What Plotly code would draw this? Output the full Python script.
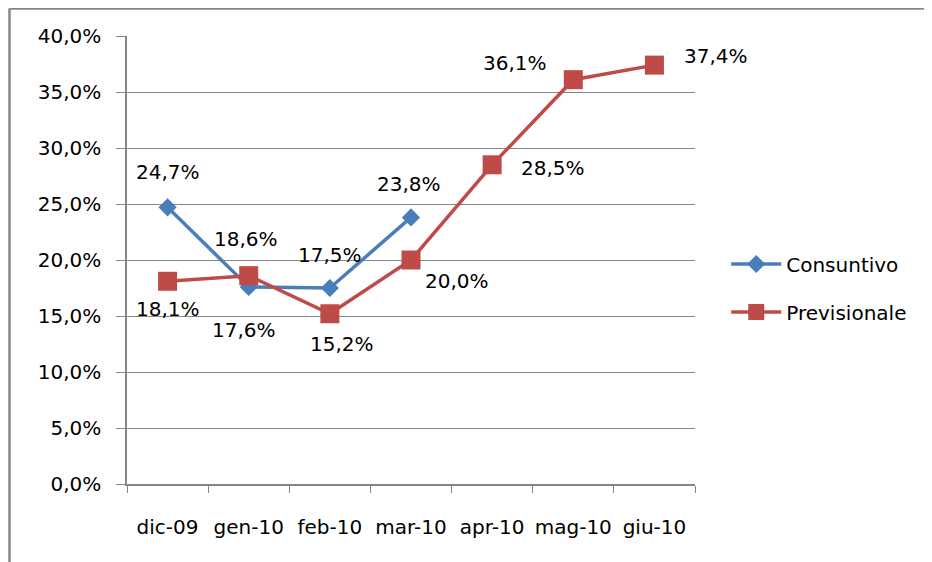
import plotly.graph_objects as go

categories = ["dic-09", "gen-10", "feb-10", "mar-10", "apr-10", "mag-10", "giu-10"]
consuntivo = [24.7, 17.6, 17.5, 23.8]
previsionale = [18.1, 18.6, 15.2, 20.0, 28.5, 36.1, 37.4]
y_ticks = [0, 5, 10, 15, 20, 25, 30, 35, 40]

# label offsets (pixels) for each data label
cons_shift = [(0, 35), (-5, -43), (0, 33), (-2, 33)]
prev_shift = [(0, -28), (-3, 37), (12, -30), (46, -21), (61, -3), (-58, 17), (62, 9)]

FONT = "DejaVu Sans"
FS = 20
BLUE = "#4A7EBB"
RED = "#BE4B48"
GRID = "#868686"


def fmt(v):
    return f"{v:.1f}".replace(".", ",") + "%"


fig = go.Figure()
fig.add_trace(go.Scatter(
    x=categories[:len(consuntivo)], y=consuntivo, name="Consuntivo",
    mode="lines+markers", legendgroup="a",
    line=dict(color=BLUE, width=3.5),
    marker=dict(symbol="diamond", size=14, color=BLUE),
))
fig.add_trace(go.Scatter(
    x=categories, y=previsionale, name="Previsionale",
    mode="lines+markers", legendgroup="b",
    line=dict(color=RED, width=3.5),
    marker=dict(symbol="square", size=19, color=RED),
))

annotations = []
for i, v in enumerate(consuntivo):
    dx, dy = cons_shift[i]
    annotations.append(dict(x=categories[i], y=v, text=fmt(v), showarrow=False,
                            xshift=dx, yshift=dy, font=dict(family=FONT, size=FS, color="black")))
for i, v in enumerate(previsionale):
    dx, dy = prev_shift[i]
    annotations.append(dict(x=categories[i], y=v, text=fmt(v), showarrow=False,
                            xshift=dx, yshift=dy, font=dict(family=FONT, size=FS, color="black")))

W, H = 924, 554
L, T = 119, 28
pw, ph = 568, 448
R, B = W - L - pw, H - T - ph
bx = (1.5 - L) / pw
by = 1 + (T - 0.5) / ph

fig.update_layout(
    width=W, height=H,
    margin=dict(l=L, r=R, t=T, b=B, pad=0, autoexpand=False),
    paper_bgcolor="white", plot_bgcolor="white",
    font=dict(family=FONT, size=FS, color="black"),
    showlegend=True,
    legend=dict(x=1.055, y=0.4375, xanchor="left", yanchor="middle",
                font=dict(family=FONT, size=FS, color="black"),
                traceorder="grouped", tracegroupgap=19, itemwidth=50,
                bgcolor="rgba(0,0,0,0)"),
    annotations=annotations,
    shapes=[
        dict(type="line", xref="paper", yref="paper", x0=bx, x1=1 + (W - L) / pw, y0=by, y1=by,
             line=dict(color=GRID, width=2.5)),
        dict(type="line", xref="paper", yref="paper", x0=bx, x1=bx, y0=by, y1=-B / ph - 0.01,
             line=dict(color=GRID, width=2.5)),
    ],
)
fig.update_xaxes(
    type="category", categoryarray=categories, range=[-0.5, len(categories) - 0.5],
    showgrid=False, showline=True, linecolor=GRID, linewidth=1.5,
    ticks="outside", tickson="boundaries", ticklen=7, tickcolor=GRID,
    tickangle=0, automargin=False,
    ticklabelstandoff=24, tickfont=dict(family=FONT, size=FS, color="black"),
)
fig.update_yaxes(
    range=[0, 40], tickmode="array", tickvals=y_ticks, ticktext=[fmt(v) for v in y_ticks],
    showgrid=True, gridcolor=GRID, gridwidth=1,
    showline=True, linecolor=GRID, linewidth=1.5,
    ticks="outside", ticklen=9, tickcolor=GRID, automargin=False,
    ticklabelstandoff=11, tickfont=dict(family=FONT, size=FS, color="black"),
    zeroline=False,
)

fig.write_html("out.html")
